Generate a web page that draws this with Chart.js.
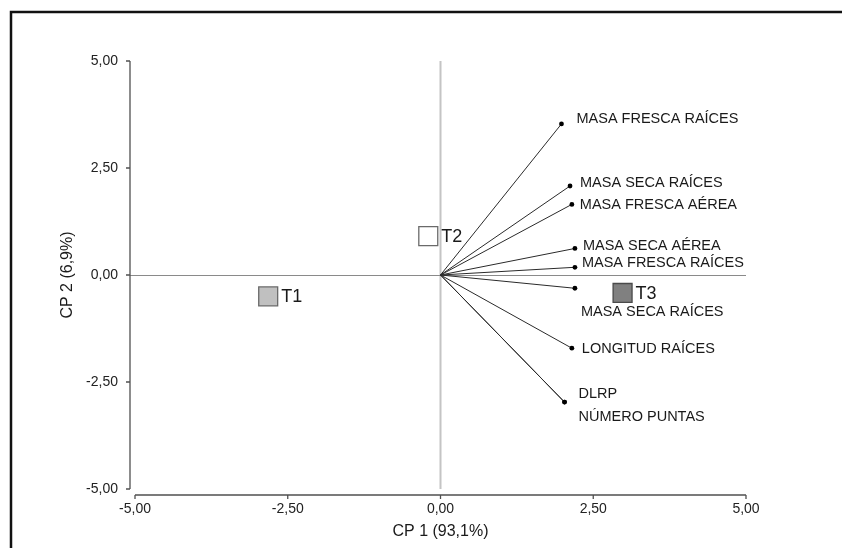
<!DOCTYPE html>
<html>
<head>
<meta charset="utf-8">
<script src="https://cdn.jsdelivr.net/npm/chart.js@4/dist/chart.umd.min.js"></script>
<style>
  html, body { margin: 0; padding: 0; background: #ffffff; }
  canvas { display: block; }
</style>
</head>
<body>
<canvas id="biplot" width="842" height="548"></canvas>
<script>
// Variable loadings (CP 1, CP 2)
const variableNames = [
  'MASA FRESCA RAÍCES',
  'MASA SECA RAÍCES',
  'MASA FRESCA AÉREA',
  'MASA SECA AÉREA',
  'MASA FRESCA RAÍCES',
  'MASA SECA RAÍCES',
  'LONGITUD RAÍCES',
  'DLRP',
  'NÚMERO PUNTAS'
];
const loadingsX = [1.98, 2.12, 2.15, 2.20, 2.20, 2.20, 2.15, 2.03, 2.03];
const loadingsY = [3.53, 2.08, 1.65, 0.62, 0.18, -0.31, -1.71, -2.97, -2.97];

// Treatment scores (CP 1, CP 2)
const treatmentNames = ['T1', 'T2', 'T3'];
const scoresX = [-2.82, -0.20, 2.98];
const scoresY = [-0.50, 0.91, -0.42];

// Axis ticks and titles
const tickValues = [-5, -2.5, 0, 2.5, 5];
const xTitle = 'CP 1 (93,1%)';
const yTitle = 'CP 2 (6,9%)';

// Label placement (pixel offsets from the arrow tip: left edge, vertical centre)
const variableLabelOffsets = [
  [15, -5], [10, -3], [8, 1], [8, -2], [7, -4], [6, 24], [10, 1], [14, -8], [14, 15]
];
const treatmentFill = ['#c0c0c0', '#ffffff', '#808080'];
const treatmentEdge = ['#6a6a6a', '#6a6a6a', '#4a4a4a'];

const FONT = "'Liberation Sans', Arial, sans-serif";
const fmt = v => Number(v).toFixed(2).replace('.', ',');

const datasets = [];
variableNames.forEach((name, i) => {
  datasets.push({
    label: name,
    data: [{ x: 0, y: 0 }, { x: loadingsX[i], y: loadingsY[i] }],
    showLine: true,
    borderColor: '#2a2a2a',
    borderWidth: 1,
    pointRadius: [0, 2.4],
    pointBackgroundColor: '#000000',
    pointBorderColor: '#000000',
    pointBorderWidth: 0,
    clip: false
  });
});
datasets.push({
  label: 'Tratamientos',
  data: scoresX.map((x, i) => ({ x: x, y: scoresY[i] })),
  showLine: false,
  pointStyle: 'rect',
  pointRadius: 13.4,
  pointBackgroundColor: treatmentFill,
  pointBorderColor: treatmentEdge,
  pointBorderWidth: 1.3,
  clip: false
});

const decor = {
  id: 'decor',
  beforeDatasetsDraw(chart) {
    const { ctx, chartArea: a, scales: { x, y } } = chart;
    const x0 = x.getPixelForValue(0), y0 = y.getPixelForValue(0);
    ctx.save();
    // zero reference lines
    ctx.strokeStyle = '#c4c4c4';
    ctx.lineWidth = 2;
    ctx.beginPath(); ctx.moveTo(x0, a.top); ctx.lineTo(x0, a.bottom); ctx.stroke();
    ctx.strokeStyle = '#8a8a8a';
    ctx.lineWidth = 1;
    ctx.beginPath(); ctx.moveTo(a.left - 5, Math.round(y0) + 0.5); ctx.lineTo(a.right, Math.round(y0) + 0.5); ctx.stroke();

    // detached axis lines with outward ticks
    ctx.strokeStyle = '#505050';
    ctx.lineWidth = 1.3;
    const ax = a.left - 5, ay = a.bottom + 6;
    ctx.beginPath();
    ctx.moveTo(ax, y.getPixelForValue(tickValues[tickValues.length - 1]));
    ctx.lineTo(ax, y.getPixelForValue(tickValues[0]));
    tickValues.forEach(v => {
      const py = y.getPixelForValue(v);
      ctx.moveTo(ax, py); ctx.lineTo(ax - 4, py);
    });
    ctx.moveTo(x.getPixelForValue(tickValues[0]), ay);
    ctx.lineTo(x.getPixelForValue(tickValues[tickValues.length - 1]), ay);
    tickValues.forEach(v => {
      const px = x.getPixelForValue(v);
      ctx.moveTo(px, ay); ctx.lineTo(px, ay + 4);
    });
    ctx.stroke();
    ctx.restore();
  },
  afterDatasetsDraw(chart) {
    const { ctx, scales: { x, y } } = chart;
    ctx.save();
    ctx.fillStyle = '#1a1a1a';
    ctx.textAlign = 'left';
    ctx.textBaseline = 'middle';
    ctx.font = '14.5px ' + FONT;
    variableNames.forEach((name, i) => {
      const px = x.getPixelForValue(loadingsX[i]);
      const py = y.getPixelForValue(loadingsY[i]);
      const [dx, dy] = variableLabelOffsets[i];
      ctx.fillText(name, px + dx, py + dy);
    });
    ctx.font = '18px ' + FONT;
    treatmentNames.forEach((name, i) => {
      const px = x.getPixelForValue(scoresX[i]);
      const py = y.getPixelForValue(scoresY[i]);
      ctx.fillText(name, px + 13, py + 1);
    });
    ctx.restore();
  },
  afterDraw(chart) {
    const { ctx, width, height } = chart;
    ctx.save();
    ctx.strokeStyle = '#111111';
    ctx.lineWidth = 2.5;
    ctx.beginPath();
    ctx.moveTo(11, height);
    ctx.lineTo(11, 12);
    ctx.lineTo(width, 12);
    ctx.stroke();
    ctx.restore();
  }
};

const tickSetter = scale => { scale.ticks = tickValues.map(v => ({ value: v })); };

new Chart(document.getElementById('biplot'), {
  type: 'scatter',
  data: { datasets },
  options: {
    responsive: false,
    animation: false,
    devicePixelRatio: 1,
    layout: { padding: { top: 61, right: 96, left: 0, bottom: 0 } },
    plugins: { legend: { display: false }, tooltip: { enabled: false } },
    scales: {
      x: {
        type: 'linear',
        min: -5, max: 5,
        afterBuildTicks: tickSetter,
        afterFit: s => { s.height = 59; },
        grid: { display: false },
        border: { display: false },
        ticks: {
          callback: fmt, autoSkip: false, maxRotation: 0,
          padding: 4, color: '#222222',
          font: { family: FONT, size: 14 }
        },
        title: {
          display: true, text: xTitle, color: '#1a1a1a',
          font: { family: FONT, size: 16 },
          padding: { top: 0, bottom: 7 }
        }
      },
      y: {
        type: 'linear',
        min: -5, max: 5,
        afterBuildTicks: tickSetter,
        afterFit: s => { s.width = 135; },
        grid: { display: false },
        border: { display: false },
        ticks: {
          callback: fmt, autoSkip: false,
          padding: 9, color: '#222222',
          font: { family: FONT, size: 14 }
        },
        title: {
          display: true, text: yTitle, color: '#1a1a1a',
          font: { family: FONT, size: 16 },
          padding: { top: 58, bottom: 0 }
        }
      }
    }
  },
  plugins: [decor]
});
</script>
</body>
</html>
